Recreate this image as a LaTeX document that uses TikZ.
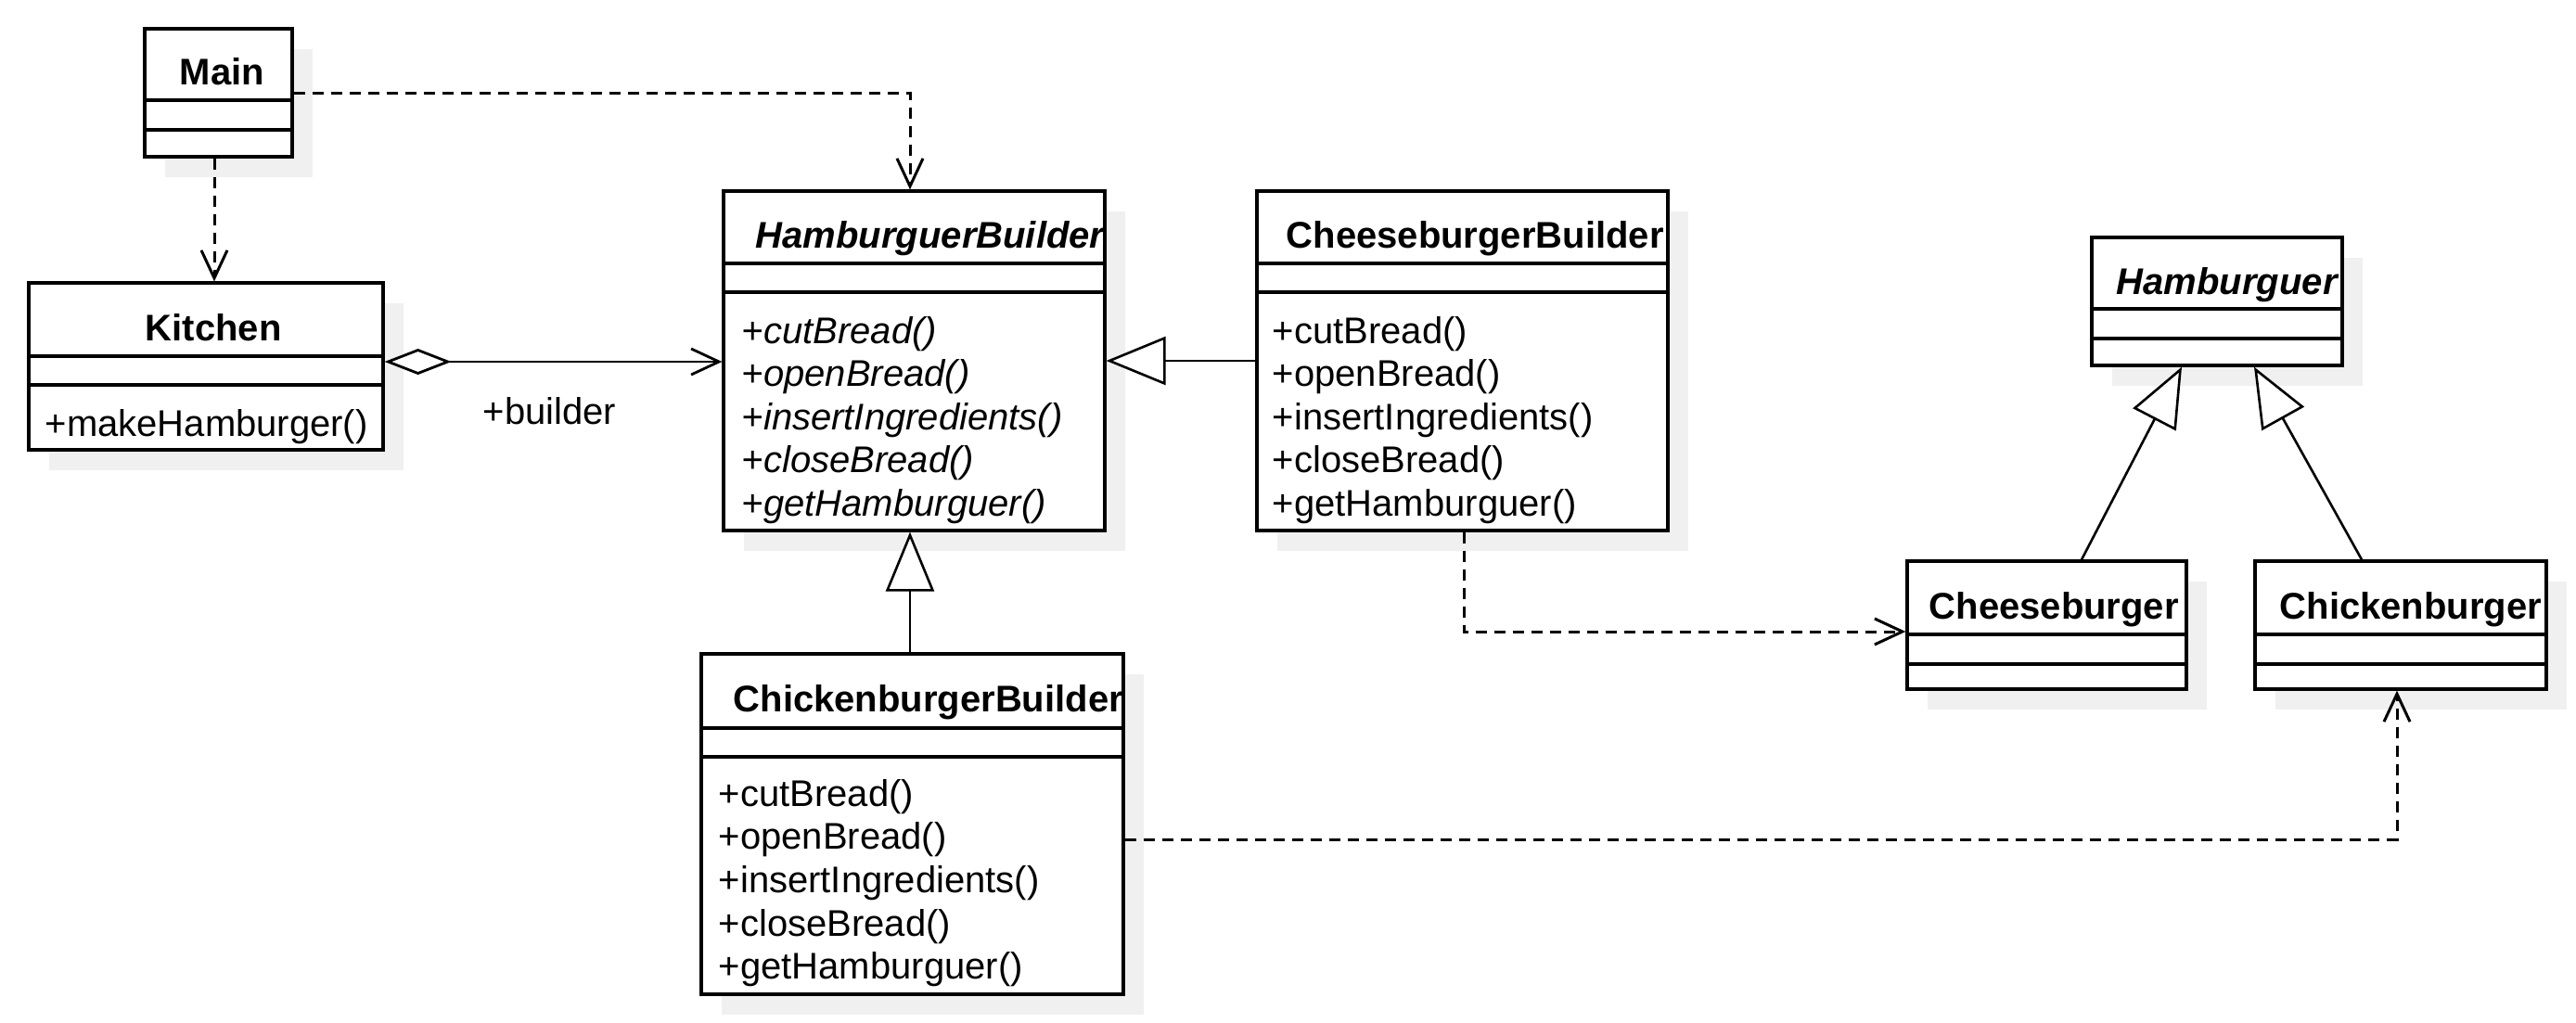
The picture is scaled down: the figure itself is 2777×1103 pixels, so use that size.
\documentclass[tikz,border=0pt]{standalone}
\usepackage{fontspec}
\setmainfont{Liberation Sans}
\usetikzlibrary{arrows.meta,fit}
\definecolor{shadowgray}{RGB}{240,240,240}
\begin{document}
\begin{tikzpicture}[x=0.25pt,y=-0.25pt]
    % styles
    \tikzstyle{classbox}=[draw, line width=0.8pt, fill=white, inner sep=0pt]
    \tikzstyle{divider}=[line width=0.8pt]
    \tikzstyle{title}=[anchor=base west, inner sep=0pt, font=\bfseries]
    \tikzstyle{method}=[anchor=base west, inner sep=0pt]
    \tikzstyle{dep}=[line width=0.75pt, dash pattern=on 3.2pt off 1.8pt, -{Straight Barb[length=7.5pt,width=7pt]}]
    \tikzstyle{inherit}=[line width=0.65pt, -{Triangle[open,length=16pt,width=13pt,fill=white]}]
    \tikzstyle{aggr}=[line width=0.7pt, {Diamond[open,length=18pt,width=7pt,fill=white]}-{Straight Barb[length=7.5pt,width=7pt]}]

    \useasboundingbox (0,0) rectangle (2777,1103);

    % classes: shadow, frame, two dividers
    \foreach \n/\xa/\ya/\xb/\yb/\da/\db in {
        main/156/31/315/169/108/140,
        kitchen/31/305/413/485/384/415,
        hb/780/206/1191/572/284/315,
        cb/1355/206/1798/572/284/315,
        cbb/756/705/1211/1072/785/816,
        ham/2255/256/2525/394/333/365,
        cheese/2056/605/2357/743/684/716,
        chick/2431/605/2745/743/684/716} {
        \fill[shadowgray] (\xa+22,\ya+22) rectangle (\xb+22,\yb+22);
        \node[classbox, fit={(\xa,\ya) (\xb,\yb)}] (\n) {};
        \draw[divider] (\xa,\da) -- (\xb,\da) (\xa,\db) -- (\xb,\db);
    }

    % class names
    \node[title] (mainT) at (193,92) {Main};
    \node[title] (kitchenT) at (156,367) {Kitchen};
    \node[title, font=\bfseries\itshape] (hbT) at (814,267) {HamburguerBuilder};
    \node[title] (cbT) at (1386,267) {CheeseburgerBuilder};
    \node[title] (cbbT) at (790,767) {ChickenburgerBuilder};
    \node[title, font=\bfseries\itshape] (hamT) at (2281,317) {Hamburguer};
    \node[title] (cheeseT) at (2079,667) {Cheeseburger};
    \node[title] (chickT) at (2457,667) {Chickenburger};

    % operations
    \node[method] (kitchenM) at (48,470) {+makeHamburger()};
    \foreach \m [count=\i from 0] in {cutBread,openBread,insertIngredients,closeBread,getHamburguer} {
        \node[method, font=\itshape] (hbM\i) at (799,370+46.5*\i) {+\m()};
        \node[method] (cbM\i) at (1371,370+46.5*\i) {+\m()};
        \node[method] (cbbM\i) at (774,869+46.7*\i) {+\m()};
    }

    % dependencies
    \draw[dep] (main.east) -| (hb.north -| 981,0);
    \draw[dep] (main.south -| 231,0) -- (kitchen.north -| 231,0);
    \draw[dep] (cb.south -| 1578,0) |- (cheese.west |- 0,681);
    \draw[dep] (cbb.east |- 0,905) -| (chick.south -| 2584,0);

    % aggregation
    \draw[aggr] (kitchen.east |- 0,390) -- (hb.west |- 0,390);
    \node[method] (builderL) at (520,457) {+builder};

    % generalizations
    \draw[inherit] (cb.west) -- (cb.west -| hb.east);
    \draw[inherit] (cbb.north -| 981,0) -- (hb.south -| 981,0);
    \draw[inherit] (cheese.north -| 2244,0) -- (ham.south -| 2352,0);
    \draw[inherit] (chick.north -| 2546,0) -- (ham.south -| 2430,0);
\end{tikzpicture}
\end{document}
